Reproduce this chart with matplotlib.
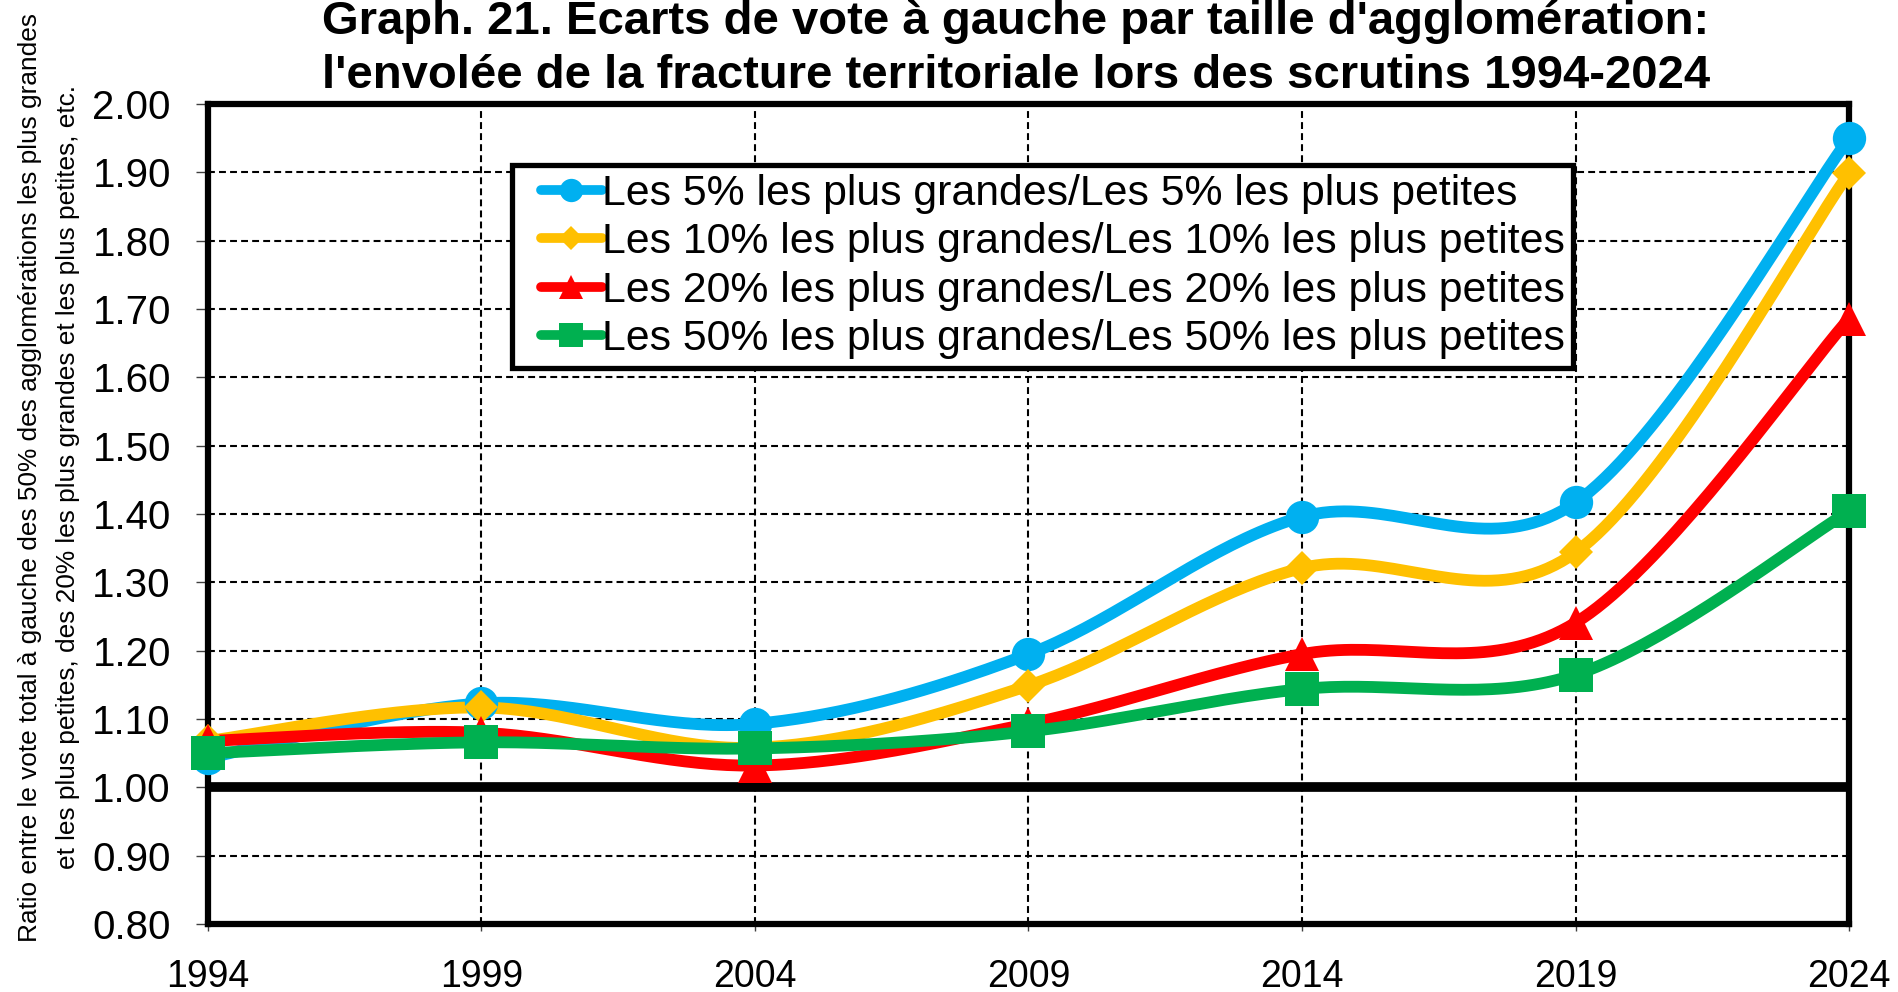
import numpy as np
import matplotlib
matplotlib.use("Agg")
import matplotlib.pyplot as plt
from matplotlib.lines import Line2D
from matplotlib.legend_handler import HandlerLine2D
from matplotlib import font_manager

years = [1994, 1999, 2004, 2009, 2014, 2019, 2024]
top5 = [1.043, 1.123, 1.093, 1.195, 1.396, 1.417, 1.950]
top10 = [1.068, 1.117, 1.058, 1.149, 1.321, 1.344, 1.899]
top20 = [1.068, 1.080, 1.032, 1.093, 1.195, 1.241, 1.686]
top50 = [1.050, 1.066, 1.057, 1.082, 1.144, 1.165, 1.404]

labels = [
    "Les 5% les plus grandes/Les 5% les plus petites",
    "Les 10% les plus grandes/Les 10% les plus petites",
    "Les 20% les plus grandes/Les 20% les plus petites",
    "Les 50% les plus grandes/Les 50% les plus petites",
]
colors = ["#00B0F0", "#FFC000", "#FF0000", "#00B050"]
markers = ["o", "D", "^", "s"]
msizes = [24, 17, 24, 24]

title_lines = ["Graph. 21. Ecarts de vote à gauche par taille d'agglomération:",
               "l'envolée de la fracture territoriale lors des scrutins 1994-2024"]
ylabel_lines = ["Ratio entre le vote total à gauche des 50% des agglomérations les plus grandes",
                "et les plus petites, des 20% les plus grandes et les plus petites, etc."]

plt.rcParams['font.family'] = ['Liberation Sans', 'DejaVu Sans']

available = {f.name for f in font_manager.fontManager.ttflist}
narrow = "Liberation Sans Narrow" if "Liberation Sans Narrow" in available else "Liberation Sans"


def excel_smooth(x, y, n=40):
    x = np.asarray(x, float)
    y = np.asarray(y, float)
    px = np.concatenate([[x[0]], x, [x[-1]]])
    py = np.concatenate([[y[0]], y, [y[-1]]])
    xs, ys = [], []
    t = np.linspace(0, 1, n)
    for i in range(1, len(px) - 2):
        p0 = np.array([px[i], py[i]])
        p3 = np.array([px[i + 1], py[i + 1]])
        p1 = p0 + (np.array([px[i + 1], py[i + 1]]) - np.array([px[i - 1], py[i - 1]])) / 6
        p2 = p3 - (np.array([px[i + 2], py[i + 2]]) - np.array([px[i], py[i]])) / 6
        b = ((1 - t) ** 3)[:, None] * p0 + (3 * (1 - t) ** 2 * t)[:, None] * p1 + \
            (3 * (1 - t) * t ** 2)[:, None] * p2 + (t ** 3)[:, None] * p3
        xs.append(b[:, 0])
        ys.append(b[:, 1])
    return np.concatenate(xs), np.concatenate(ys)


class PadHandler(HandlerLine2D):
    def create_artists(self, legend, orig_handle, xdescent, ydescent, width, height,
                       fontsize, trans):
        pad = 0.48 * fontsize
        return super().create_artists(legend, orig_handle, xdescent - pad, ydescent,
                                      width - pad, height, fontsize, trans)


W, H = 1899, 992
fig = plt.figure(figsize=(W / 100, H / 100), dpi=100)
ax = fig.add_axes([0.1095, 0.0685, 0.8642, 0.8265])

ax.set_xlim(1994, 2024)
ax.set_ylim(0.80, 2.00)
yt = np.arange(0.80, 2.001, 0.10)
ax.set_yticks(yt)
ax.set_yticklabels([f"{v:.2f}" for v in yt])
ax.set_xticks(years)
ax.set_xticklabels([str(y) for y in years])

ax.grid(True, color="black", linestyle=(0, (3.3, 2.0)), linewidth=1.5)
ax.set_axisbelow(True)
for s in ax.spines.values():
    s.set_linewidth(4.5)
    s.set_color("black")

ax.axhline(1.0, color="black", linewidth=7, zorder=2)

series = [top5, top10, top20, top50]
handles = []
for vals, c, m, ms, lab in zip(series, colors, markers, msizes, labels):
    sx, sy = excel_smooth(years, vals)
    ax.plot(sx, sy, color=c, linewidth=8.5, solid_capstyle="round", zorder=3, clip_on=False)
    ax.plot(years, vals, linestyle="none", marker=m, markersize=ms, color=c,
            markeredgewidth=0, zorder=4, clip_on=False)
    handles.append(Line2D([], [], color=c, linewidth=7, marker=m, markersize=ms * 0.7,
                          markeredgewidth=0, solid_capstyle="round", label=lab))

ax.tick_params(axis="y", labelsize=29, length=8.6, width=1.0, color="#404040",
               direction="out", pad=18)
ax.tick_params(axis="x", labelsize=27, length=5, width=1.0, color="#404040",
               direction="out", pad=20)

leg = ax.legend(handles=handles, loc="upper left", bbox_to_anchor=(0.185, 0.9256),
                fontsize=30.8, frameon=True, fancybox=False, framealpha=1.0,
                handlelength=1.91, handletextpad=0.0, borderpad=0.2, labelspacing=0.2,
                borderaxespad=0, handler_map={Line2D: PadHandler()})
leg.get_frame().set_edgecolor("black")
leg.get_frame().set_linewidth(3.8)
leg.set_zorder(5)

renderer = fig.canvas.get_renderer()
t1 = fig.text(1016 / W, 1 - 22 / H, title_lines[0], ha="center", va="center",
              fontsize=30, fontweight="bold")
t2 = fig.text(1016 / W, 1 - 76 / H, title_lines[1], ha="center", va="center",
              fontsize=30, fontweight="bold")
w = t1.get_window_extent(renderer).width
fs_title = min(34.0, 30 * 1408 / w)
t1.set_fontsize(fs_title)
t2.set_fontsize(fs_title)

l1 = fig.text(30 / W, 1 - 477 / H, ylabel_lines[0], rotation=90, ha="center", va="center",
              fontsize=18, family=[narrow, "DejaVu Sans"])
l2 = fig.text(68 / W, 1 - 477 / H, ylabel_lines[1], rotation=90, ha="center", va="center",
              fontsize=18, family=[narrow, "DejaVu Sans"])
hgt = l1.get_window_extent(renderer).height
fs_y = 18 * 930 / hgt
l1.set_fontsize(fs_y)
l2.set_fontsize(fs_y)

fig.savefig("out.png", dpi=100)
